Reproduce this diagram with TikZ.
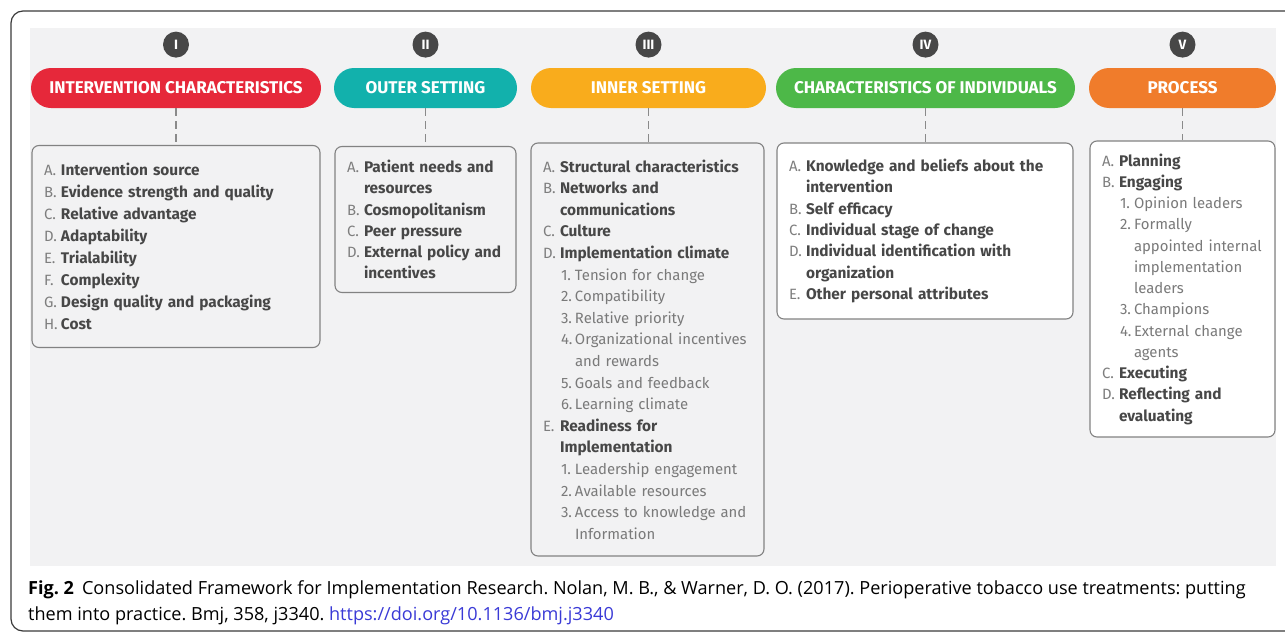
\documentclass[tikz,border=0pt]{standalone}
\usepackage{fontspec}
\setmainfont{Fira Sans}
\newfontfamily\capfont{Open Sans}
\usetikzlibrary{positioning}
\definecolor{panel}{HTML}{F2F2F3}
\definecolor{framegrey}{HTML}{3A3A3A}
\definecolor{boxline}{HTML}{828282}
\definecolor{dashgrey}{HTML}{8A8A8A}
\definecolor{dotgrey}{HTML}{474747}
\definecolor{lettergrey}{HTML}{7E7E7E}
\definecolor{itemgrey}{HTML}{474747}
\definecolor{subgrey}{HTML}{7A7A7A}
\definecolor{headred}{HTML}{E6283A}
\definecolor{headteal}{HTML}{12B1AC}
\definecolor{headyellow}{HTML}{F9AC1C}
\definecolor{headgreen}{HTML}{4DB848}
\definecolor{headorange}{HTML}{F07C2B}
\definecolor{linkblue}{HTML}{3A3AD6}
\newcommand\boldsize{\fontsize{15.4}{21.6}\selectfont}
\newcommand\plainsize{\fontsize{14.9}{21.6}\selectfont}
\newcommand\lettered[2]{\mbox{\makebox[17pt][l]{\plainsize\color{lettergrey}#1}{\boldsize\bfseries\color{itemgrey}#2}}}
\newcommand\letteredmore[1]{\mbox{\hspace*{17pt}{\boldsize\bfseries\color{itemgrey}#1}}}
\newcommand\numbered[2]{\mbox{\hspace*{18pt}{\plainsize\color{subgrey}\makebox[14pt][l]{#1}#2}}}
\newcommand\numberedmore[1]{\mbox{\hspace*{32pt}{\plainsize\color{subgrey}#1}}}
\frenchspacing
\begin{document}
\begin{tikzpicture}[
  x=1pt, y=-1pt,
  head/.style={rounded corners=20pt, minimum height=40pt, inner sep=0pt,
    text=white, font=\bfseries\fontsize{17}{18}\selectfont},
  numdot/.style={circle, fill=dotgrey, minimum size=26pt, inner sep=0pt,
    text=white, font=\bfseries\fontsize{13.5}{14}\selectfont},
  listbox/.style={draw=boxline, line width=1.1pt, rounded corners=7pt,
    inner xsep=12pt, inner ysep=0pt, align=left,
    font=\fontsize{15}{#1}\selectfont},
  listbox/.default=21.6,
  link/.style={draw=dashgrey, line width=1.1pt, dash pattern=on 8pt off 5pt}
]
  \useasboundingbox (0,0) rectangle (1285,632);
  \clip (0,0) rectangle (1285,632);
  \draw[framegrey, line width=1.2pt, rounded corners=12pt] (11,11) rectangle (1320,631);
  \fill[panel] (30,28) rectangle (1276,566);

  \node[head, fill=headred, minimum width=290pt] (h1) at (176,88) {INTERVENTION CHARACTERISTICS};
  \node[head, fill=headteal, minimum width=183pt] (h2) at (425.5,88) {OUTER SETTING};
  \node[head, fill=headyellow, minimum width=235pt] (h3) at (648.5,88) {INNER SETTING};
  \node[head, fill=headgreen, minimum width=299pt] (h4) at (925.5,88) {CHARACTERISTICS OF INDIVIDUALS};
  \node[head, fill=headorange, minimum width=187pt] (h5) at (1182.5,88) {PROCESS};

  \foreach \n/\r in {1/I, 2/II, 3/III, 4/IV, 5/V}
    \node[numdot, above=10pt of h\n] (d\n) {\r};

  \node[listbox=22, fill=panel, minimum width=288pt, text width=264pt, minimum height=202pt] (b1) at (176,246.5) {
    \lettered{A.}{Intervention source}\\
    \lettered{B.}{Evidence strength and quality}\\
    \lettered{C.}{Relative advantage}\\
    \lettered{D.}{Adaptability}\\
    \lettered{E.}{Trialability}\\
    \lettered{F.}{Complexity}\\
    \lettered{G.}{Design quality and packaging}\\
    \lettered{H.}{Cost}};

  \node[listbox=21.2, fill=panel, minimum width=181pt, text width=157pt, minimum height=146pt] (b2) at (425.5,219.5) {
    \lettered{A.}{Patient needs and}\\
    \letteredmore{resources}\\
    \lettered{B.}{Cosmopolitanism}\\
    \lettered{C.}{Peer pressure}\\
    \lettered{D.}{External policy and}\\
    \letteredmore{incentives}};

  \node[listbox, fill=panel, minimum width=233pt, text width=209pt, minimum height=413pt] (b3) at (647.5,349.5) {
    \lettered{A.}{Structural characteristics}\\
    \lettered{B.}{Networks and}\\
    \letteredmore{communications}\\
    \lettered{C.}{Culture}\\
    \lettered{D.}{Implementation climate}\\
    \numbered{1.}{Tension for change}\\
    \numbered{2.}{Compatibility}\\
    \numbered{3.}{Relative priority}\\
    \numbered{4.}{Organizational incentives}\\
    \numberedmore{and rewards}\\
    \numbered{5.}{Goals and feedback}\\
    \numbered{6.}{Learning climate}\\
    \lettered{E.}{Readiness for}\\
    \letteredmore{Implementation}\\
    \numbered{1.}{Leadership engagement}\\
    \numbered{2.}{Available resources}\\
    \numbered{3.}{Access to knowledge and}\\
    \numberedmore{Information}};

  \node[listbox=21.3, fill=white, minimum width=296pt, text width=272pt, minimum height=176pt] (b4) at (925,231) {
    \lettered{A.}{Knowledge and beliefs about the}\\
    \letteredmore{intervention}\\
    \lettered{B.}{Self efficacy}\\
    \lettered{C.}{Individual stage of change}\\
    \lettered{D.}{Individual identification with}\\
    \letteredmore{organization}\\
    \lettered{E.}{Other personal attributes}};

  \node[listbox=21.25, fill=white, minimum width=185pt, text width=161pt, minimum height=296pt] (b5) at (1182.5,289) {
    \lettered{A.}{Planning}\\
    \lettered{B.}{Engaging}\\
    \numbered{1.}{Opinion leaders}\\
    \numbered{2.}{Formally}\\
    \numberedmore{appointed internal}\\
    \numberedmore{implementation}\\
    \numberedmore{leaders}\\
    \numbered{3.}{Champions}\\
    \numbered{4.}{External change}\\
    \numberedmore{agents}\\
    \lettered{C.}{Executing}\\
    \lettered{D.}{Reflecting and}\\
    \letteredmore{evaluating}};

  \foreach \n in {1,...,5}
    \draw[link] (h\n.south) -- (h\n.south |- b\n.north);

  \node[anchor=north west, align=left, inner sep=0pt,
    font=\capfont\fontsize{18.1}{26}\selectfont] (cap) at (28,580.5) {
    \textbf{Fig. 2}\hspace{8pt}Consolidated Framework for Implementation Research. Nolan, M. B., \& Warner, D. O. (2017). Perioperative tobacco use treatments: putting\\
    them into practice. Bmj, 358, j3340. {\color{linkblue}https://doi.org/10.1136/bmj.j3340}};
\end{tikzpicture}
\end{document}
